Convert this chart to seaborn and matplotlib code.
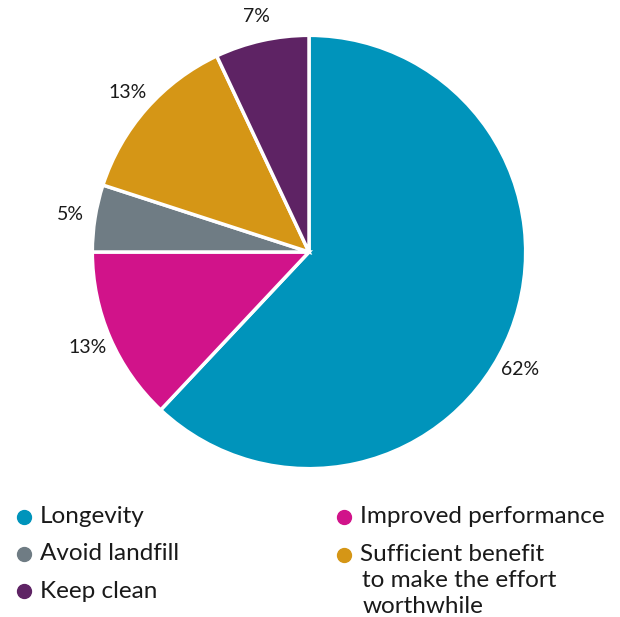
import matplotlib
matplotlib.use("Agg")
import matplotlib.pyplot as plt
import seaborn as sns
import numpy as np

# Reasons given, in clockwise order starting from 12 o'clock
categories = [
    "Longevity",
    "Improved performance",
    "Avoid landfill",
    "Sufficient benefit\nto make the effort\nworthwhile",
    "Keep clean",
]
shares = [62, 13, 5, 13, 7]
colors = ["#0094BB", "#D1138A", "#6F7C84", "#D59616", "#5E2364"]

sns.set_style("white")
plt.rcParams["font.family"] = ["Lato", "DejaVu Sans"]

W, H = 620, 617
fig = plt.figure(figsize=(W / 100, H / 100), dpi=100)
fig.patch.set_facecolor("white")

# Pie axes: centre and size in pixels
cx, cy, half = 309, 252, 260
ax = fig.add_axes([(cx - half) / W, (H - cy - half) / H, 2 * half / W, 2 * half / H])
wedges, _ = ax.pie(
    shares,
    colors=colors,
    startangle=90,
    counterclock=False,
    radius=1.0,
    wedgeprops=dict(edgecolor="white", linewidth=2.5),
)
ax.set_xlim(-1.2, 1.2)
ax.set_ylim(-1.2, 1.2)
ax.set_aspect("equal")
ax.axis("off")

# Percentage labels just outside each wedge
angle_shift = [-7.4, 0, 0, 0, 0]
for w, val, shift in zip(wedges, shares, angle_shift):
    mid = np.deg2rad((w.theta1 + w.theta2) / 2 + shift)
    r = 1.115
    ax.text(r * np.cos(mid), r * np.sin(mid), f"{val}%", ha="center", va="center",
            fontsize=14, color="#1a1a1a")

# Legend drawn in pixel coordinates on an overlay axes
lg = fig.add_axes([0, 0, 1, 1])
lg.set_xlim(0, W)
lg.set_ylim(H, 0)
lg.axis("off")

slots = {  # category index -> (marker x, first baseline y)
    0: (23.5, 523),
    2: (23.5, 560.5),
    4: (23.5, 597.5),
    1: (343.5, 523),
    3: (343.5, 561),
}
for i, (mx, base) in slots.items():
    lg.plot([mx], [base - 6.5], marker="o", markersize=10, linestyle="none",
            color=colors[i], markeredgecolor=colors[i])
    for k, line in enumerate(categories[i].split("\n")):
        indent = 0 if k == 0 else 2.5
        lg.text(mx + 16.5 + indent, base + k * 26, line, ha="left", va="baseline",
                fontsize=17.5, color="#1a1a1a")

fig.savefig("out.png", dpi=100, facecolor="white")
